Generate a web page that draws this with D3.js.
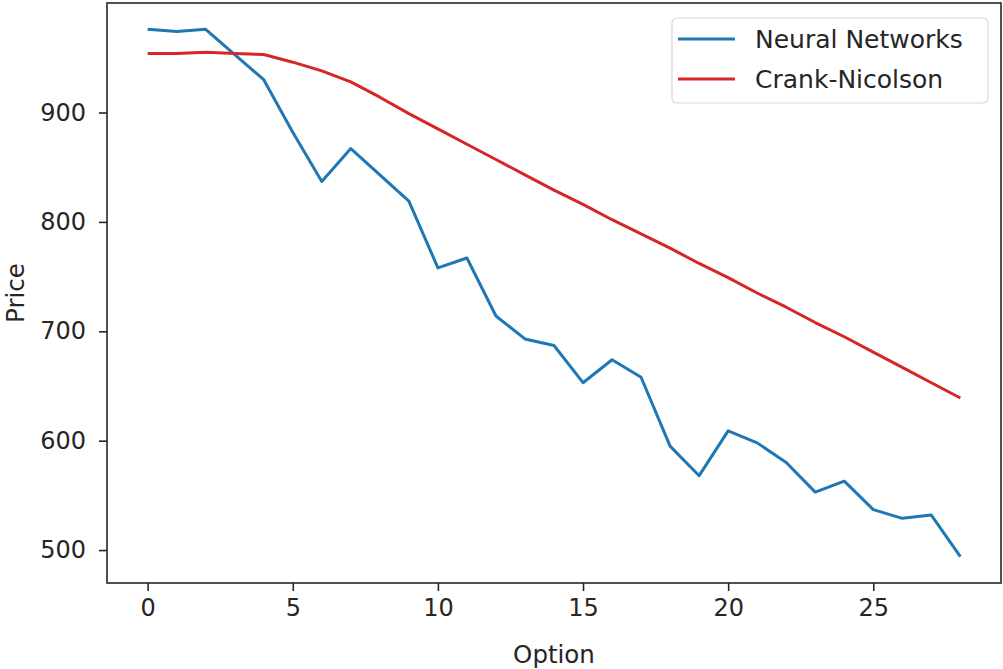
<!DOCTYPE html>
<html>
<head>
<meta charset="utf-8">
<script src="https://cdn.jsdelivr.net/npm/d3@7"></script>
<style>
  body { margin: 0; background: #fff; }
  text { font-family: "DejaVu Sans", sans-serif; fill: #262626; }
</style>
</head>
<body>
<svg id="chart" width="1003" height="669"></svg>
<script>
// Option index 0..28
const options = d3.range(0, 29);

const neuralNetworks = [
  976, 974, 976, 953, 930, 882, 837, 867, 843, 819,
  758, 767, 714, 693, 687, 653, 674, 658, 595, 568,
  609, 598, 580, 553, 563, 537, 529, 532, 494,
];

const crankNicolson = [
  954, 954, 955, 954, 953, 946, 938, 928, 914, 899,
  885, 871, 857, 843, 829, 816, 802, 789, 776, 762,
  749, 735, 722, 708, 695, 681, 667, 653, 639,
];

const xTicks = [0, 5, 10, 15, 20, 25];
const yTicks = [500, 600, 700, 800, 900];

const series = [
  { name: "Neural Networks", values: neuralNetworks, color: "#1f77b4" },
  { name: "Crank-Nicolson", values: crankNicolson, color: "#d62728" },
];

const margin = { top: 3, right: 2, bottom: 86, left: 107 };
const width = 1003 - margin.left - margin.right;
const height = 669 - margin.top - margin.bottom;

const svg = d3.select("#chart");
const g = svg.append("g").attr("transform", `translate(${margin.left},${margin.top})`);

// matplotlib-style 5% padding
const allY = neuralNetworks.concat(crankNicolson);
const yMin = d3.min(allY), yMax = d3.max(allY);
const yPad = (yMax - yMin) * 0.05;
const xPad = (options.length - 1) * 0.05;

const x = d3.scaleLinear()
  .domain([0 - xPad, options.length - 1 + xPad])
  .range([0, width]);
const y = d3.scaleLinear()
  .domain([yMin - yPad, yMax + yPad])
  .range([height, 0]);

// Axes
const xAxis = g.append("g")
  .attr("transform", `translate(0,${height})`)
  .call(d3.axisBottom(x).tickValues(xTicks).tickSize(8).tickPadding(8));
const yAxis = g.append("g")
  .call(d3.axisLeft(y).tickValues(yTicks).tickSize(8).tickPadding(13));

[xAxis, yAxis].forEach((a) => {
  a.select(".domain").remove();
  a.selectAll(".tick line").attr("stroke", "#262626").attr("stroke-width", 1.6);
  a.selectAll(".tick text")
    .attr("font-size", "24px")
    .attr("font-family", "DejaVu Sans, sans-serif")
    .attr("fill", "#262626");
});

// Lines
const line = d3.line()
  .x((d, i) => x(options[i]))
  .y((d) => y(d));

g.append("g")
  .selectAll("path")
  .data(series)
  .join("path")
  .attr("d", (d) => line(d.values))
  .attr("fill", "none")
  .attr("stroke", (d) => d.color)
  .attr("stroke-width", 3)
  .attr("stroke-linejoin", "round");

// Frame
g.append("rect")
  .attr("width", width)
  .attr("height", height)
  .attr("fill", "none")
  .attr("stroke", "#262626")
  .attr("stroke-width", 1.6);

// Axis labels
svg.append("text")
  .attr("x", margin.left + width / 2)
  .attr("y", 663)
  .attr("text-anchor", "middle")
  .attr("font-size", "24.5px")
  .text("Option");

svg.append("text")
  .attr("transform", `translate(24,${margin.top + height / 2}) rotate(-90)`)
  .attr("text-anchor", "middle")
  .attr("font-size", "24.5px")
  .text("Price");

// Legend
const legend = svg.append("g").attr("transform", "translate(672,18)");
legend.append("rect")
  .attr("width", 316)
  .attr("height", 85)
  .attr("rx", 5)
  .attr("fill", "#fff")
  .attr("fill-opacity", 0.8)
  .attr("stroke", "#d9d9d9")
  .attr("stroke-width", 1.2);

series.forEach((s, i) => {
  const ly = 21 + i * 40;
  legend.append("line")
    .attr("x1", 6).attr("x2", 63)
    .attr("y1", ly).attr("y2", ly)
    .attr("stroke", s.color)
    .attr("stroke-width", 3);
  legend.append("text")
    .attr("x", 83)
    .attr("y", ly)
    .attr("dy", "0.35em")
    .attr("font-size", "25px")
    .text(s.name);
});
</script>
</body>
</html>
